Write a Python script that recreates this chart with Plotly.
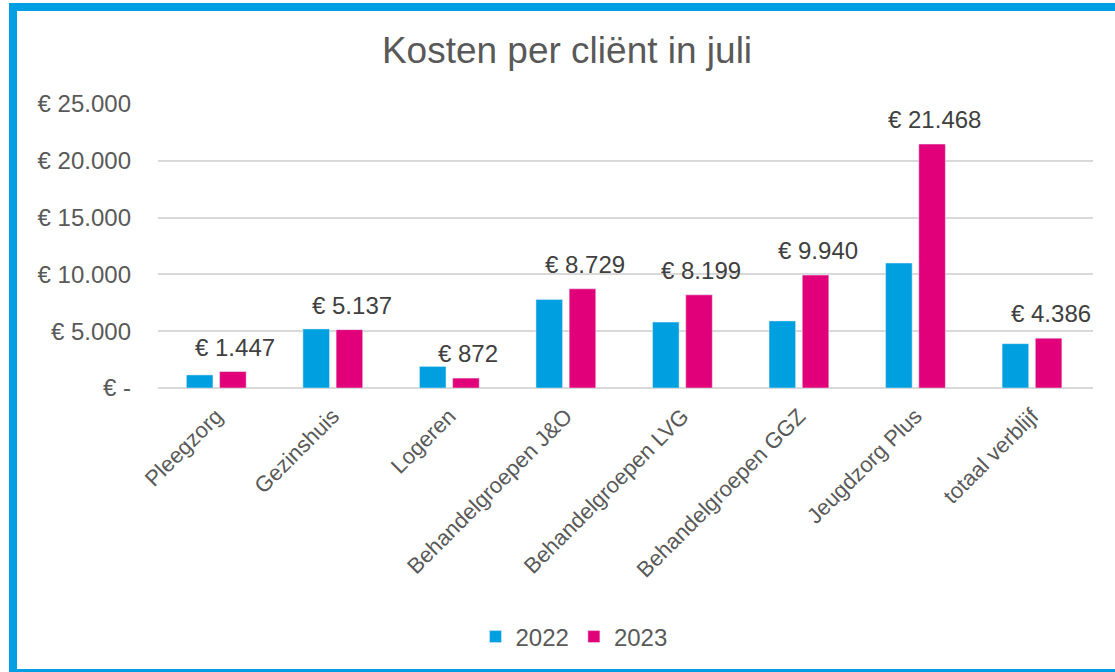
import plotly.graph_objects as go

categories = ["Pleegzorg", "Gezinshuis", "Logeren", "Behandelgroepen J&O",
              "Behandelgroepen LVG", "Behandelgroepen GGZ", "Jeugdzorg Plus",
              "totaal verblijf"]
values_2022 = [1150, 5200, 1900, 7800, 5800, 5900, 11000, 3900]
values_2023 = [1447, 5137, 872, 8729, 8199, 9940, 21468, 4386]
y_tickvals = [0, 5000, 10000, 15000, 20000, 25000]
y_ticktext = ["€ -", "€ 5.000", "€ 10.000", "€ 15.000", "€ 20.000", "€ 25.000"]

BLUE = "#009FDF"
PINK = "#E2007A"
GREY = "#595959"
FONT = "Arial, Liberation Sans, sans-serif"

W, H = 1115, 672
L, R, T, B = 158, 22, 104, 284
pw, ph = W - L - R, H - T - B


def px_x(p):
    return (p - L) / pw


def px_y(p):
    return (H - B - p) / ph


fig = go.Figure()
fig.add_trace(go.Bar(name="2022", x=categories, y=values_2022, marker_color=BLUE))
fig.add_trace(go.Bar(name="2023", x=categories, y=values_2023, marker_color=PINK))

# value labels above the 2023 bars
for cat, val in zip(categories, values_2023):
    fig.add_annotation(
        x=cat, y=val, xref="x", yref="y",
        text="€ " + f"{val:,}".replace(",", "."),
        showarrow=False, xanchor="center", yanchor="bottom",
        xshift=19, yshift=9,
        font=dict(family=FONT, size=24, color="#404040"),
    )

# blue frame around the chart
fig.add_shape(
    type="rect", xref="paper", yref="paper",
    x0=px_x(13), x1=px_x(1130), y0=px_y(673), y1=px_y(7),
    line=dict(color="#009FE3", width=8), fillcolor="rgba(0,0,0,0)",
    layer="above",
)

fig.update_layout(
    width=W, height=H,
    margin=dict(l=L, r=R, t=T, b=B),
    paper_bgcolor="white", plot_bgcolor="white",
    barmode="group", bargap=0.43, bargroupgap=0.2,
    font=dict(family=FONT, color=GREY),
    title=dict(
        text="Kosten per cliënt in juli",
        x=567 / W, xref="container", xanchor="center",
        y=1 - 50 / H, yref="container", yanchor="middle",
        font=dict(family=FONT, size=37, color=GREY),
    ),
    legend=dict(
        orientation="h", x=px_x(574), xanchor="center",
        y=px_y(637), yanchor="middle",
        font=dict(family=FONT, size=24, color=GREY),
        itemwidth=30,
    ),
    showlegend=True,
)
fig.update_yaxes(
    range=[0, 25000], tickvals=y_tickvals, ticktext=y_ticktext,
    showgrid=True, gridcolor="#D9D9D9", gridwidth=1.5,
    zeroline=True, zerolinecolor="#D9D9D9", zerolinewidth=1.5,
    showline=False, ticks="", ticklabelstandoff=26,
    tickfont=dict(family=FONT, size=24, color=GREY),
)
fig.update_xaxes(
    tickangle=-45, showline=False, ticks="", showgrid=False,
    ticklabelstandoff=10,
    tickfont=dict(family=FONT, size=22, color=GREY),
)

fig.write_html(
    "out.html",
    config={"displayModeBar": False},
    post_script="document.body.style.margin='0';document.body.style.overflow='hidden';",
)
